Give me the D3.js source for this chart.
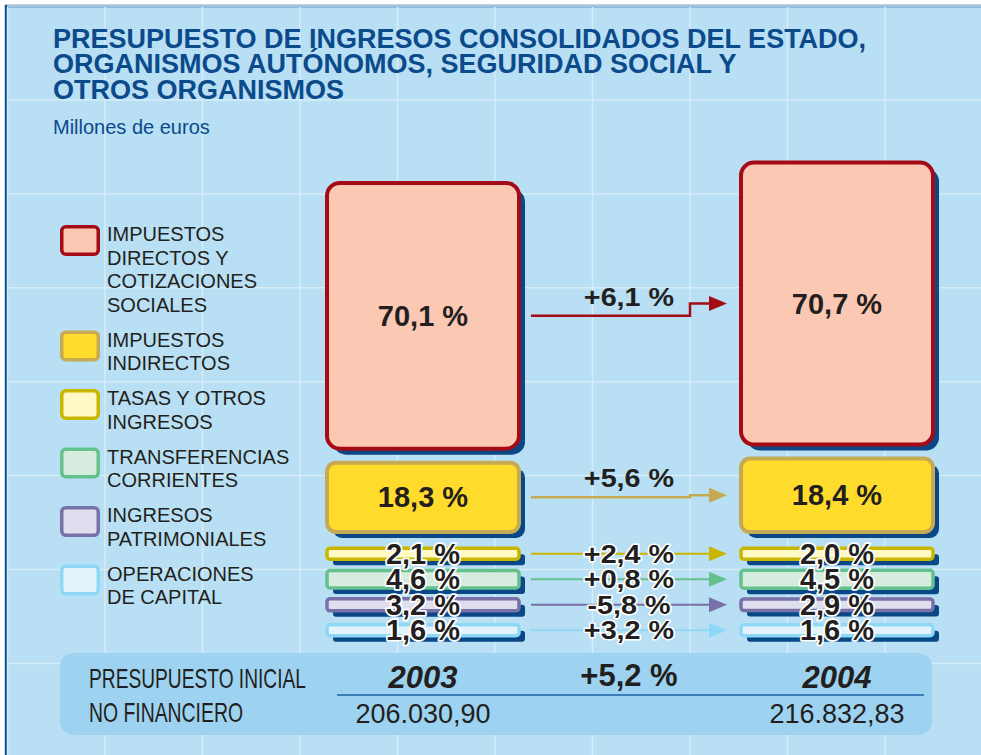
<!DOCTYPE html>
<html>
<head>
<meta charset="utf-8">
<script src="https://cdn.jsdelivr.net/npm/d3@7/dist/d3.min.js"></script>
<style>
  body { margin: 0; background: #fff; }
  svg { display: block; }
  text { font-family: "Liberation Sans", Arial, Helvetica, sans-serif; fill: #231f20; }
</style>
</head>
<body>
<svg id="chart" width="981" height="755"></svg>
<script>
// --- data ---
var years = ['2003', '2004'];

var categories = [
    'Impuestos directos y cotizaciones sociales',
    'Impuestos indirectos',
    'Tasas y otros ingresos',
    'Transferencias corrientes',
    'Ingresos patrimoniales',
    'Operaciones de capital'
];

var legendLines = [
    ['IMPUESTOS', 'DIRECTOS Y', 'COTIZACIONES', 'SOCIALES'],
    ['IMPUESTOS', 'INDIRECTOS'],
    ['TASAS Y OTROS', 'INGRESOS'],
    ['TRANSFERENCIAS', 'CORRIENTES'],
    ['INGRESOS', 'PATRIMONIALES'],
    ['OPERACIONES', 'DE CAPITAL']
];

var share2003 = [70.1, 18.3, 2.1, 4.6, 3.2, 1.6];
var share2004 = [70.7, 18.4, 2.0, 4.5, 2.9, 1.6];
var changePct = [6.1, 5.6, 2.4, 0.8, -5.8, 3.2];

var totals = [206030.90, 216832.83];
var totalChange = 5.2;

var strokeColors = ['#a50b16', '#c6aa53', '#c9b600', '#64c08c', '#7870a8', '#8ed8f6'];
var fillColors = ['#fbc8b3', '#ffdc2b', '#fff9c4', '#d6ecde', '#dfdeef', '#e2f3fb'];

// --- helpers ---
var es = d3.formatLocale({
    decimal: ',', thousands: '.', grouping: [3], currency: ['', ' €'], minus: '-'
});
var fmtShare = es.format('.1f');
var fmtChange = es.format('+.1f');
var fmtTotal = es.format(',.2f');

var svg = d3.select('#chart');
var shadowColor = '#0a4786';
var boxWidth = 192;

// background frame
svg.append('rect')
    .attr('x', 6).attr('y', 6)
    .attr('width', 1000).attr('height', 800)
    .attr('fill', '#b8dff3')
    .attr('stroke', '#0b4e8e')
    .attr('stroke-width', 2.5);

// grid
var grid = svg.append('g').attr('stroke', '#d4edf9').attr('stroke-width', 1.5);
grid.selectAll('line.v')
    .data(d3.range(-1, 10))
    .enter().append('line')
    .attr('class', 'v')
    .attr('x1', function (i) { return 105 + i * 97.5; })
    .attr('x2', function (i) { return 105 + i * 97.5; })
    .attr('y1', 7).attr('y2', 755);
grid.selectAll('line.h')
    .data(d3.range(-1, 8))
    .enter().append('line')
    .attr('class', 'h')
    .attr('y1', function (i) { return 100 + i * 93.9; })
    .attr('y2', function (i) { return 100 + i * 93.9; })
    .attr('x1', 7).attr('x2', 981);

// title
var title = svg.append('text')
    .attr('x', 53)
    .style('font-size', '27px')
    .style('font-weight', 'bold')
    .style('fill', '#0b4a8b');
title.selectAll('tspan')
    .data(['PRESUPUESTO DE INGRESOS CONSOLIDADOS DEL ESTADO,',
        'ORGANISMOS AUTÓNOMOS, SEGURIDAD SOCIAL Y',
        'OTROS ORGANISMOS'])
    .enter().append('tspan')
    .attr('x', 53)
    .attr('y', function (d, i) { return 47.5 + i * 25.5; })
    .text(function (d) { return d; });

svg.append('text')
    .attr('x', 53).attr('y', 134)
    .style('font-size', '20px')
    .style('fill', '#0b4a8b')
    .text('Millones de euros');

// legend
var legendTop = [];
var ly = 225;
legendLines.forEach(function (lines) {
    legendTop.push(ly);
    ly += lines.length * 23.5 + 11.5;
});

var legend = svg.append('g');
var item = legend.selectAll('g')
    .data(categories)
    .enter().append('g')
    .attr('transform', function (d, i) { return 'translate(0,' + legendTop[i] + ')'; });

item.append('rect')
    .attr('x', 61.75).attr('y', 1.75)
    .attr('width', 36.5).attr('height', 27.5)
    .attr('rx', 4)
    .attr('fill', function (d, i) { return fillColors[i]; })
    .attr('stroke', function (d, i) { return strokeColors[i]; })
    .attr('stroke-width', 3.5);

item.append('text')
    .style('font-size', '20px')
    .each(function (d, i) {
        d3.select(this).selectAll('tspan')
            .data(legendLines[i])
            .enter().append('tspan')
            .attr('x', 107)
            .attr('y', function (l, k) { return 16 + k * 23.5; })
            .text(function (l) { return l; });
    });

// scales
var xYear = d3.scalePoint().domain(years).range([423, 837]);
var hScale = d3.scaleLinear().domain([0, 100000]).range([0, 184]);
var yRow = d3.scaleBand().domain(categories.slice(2)).range([541, 643]);
var stackBase = 532;
var stackGap = 14;

// build boxes: big ones stacked upward from the base, small ones in fixed rows
var shares = [share2003, share2004];
var boxes = [];
years.forEach(function (yr, j) {
    var cx = xYear(yr);
    var bottom = stackBase;
    [1, 0, 2, 3, 4, 5].forEach(function (i) {
        var cat = categories[i];
        var amount = totals[j] * shares[j][i] / 100;
        var h = hScale(amount);
        var y0, y1;
        if (i < 2) {
            y1 = bottom;
            y0 = bottom - h;
            bottom = y0 - stackGap;
        } else {
            h = Math.max(h, 11);
            var c = yRow(cat) + yRow.bandwidth() / 2;
            y0 = c - h / 2;
            y1 = c + h / 2;
        }
        boxes.push({
            year: yr, j: j, i: i, cat: cat, share: shares[j][i],
            x0: cx - boxWidth / 2, x1: cx + boxWidth / 2,
            y0: y0, y1: y1, cy: (y0 + y1) / 2, big: i < 2
        });
    });
});

var marks = svg.append('g');

function radius(d) { return d.i === 0 ? 13 : (d.i === 1 ? 9 : 3); }

// shadows
marks.selectAll('rect.shadow')
    .data(boxes)
    .enter().append('rect')
    .attr('class', 'shadow')
    .attr('x', function (d) { return d.x0 + 6; })
    .attr('y', function (d) { return d.y0 + 6; })
    .attr('width', boxWidth)
    .attr('height', function (d) { return d.y1 - d.y0; })
    .attr('rx', radius)
    .attr('fill', shadowColor);

marks.selectAll('rect.box')
    .data(boxes)
    .enter().append('rect')
    .attr('class', 'box')
    .attr('x', function (d) { return d.x0; })
    .attr('y', function (d) { return d.y0; })
    .attr('width', boxWidth)
    .attr('height', function (d) { return d.y1 - d.y0; })
    .attr('rx', radius)
    .attr('fill', function (d) { return fillColors[d.i]; })
    .attr('stroke', function (d) { return strokeColors[d.i]; })
    .attr('stroke-width', function (d) { return d.big ? 4 : 3.5; });

// arrows between years
var ax0 = xYear(years[0]) + boxWidth / 2 + 12;
var ax1 = xYear(years[1]) - boxWidth / 2 - 14;
var axStep = 690;
var arrows = categories.map(function (cat, i) {
    var a = boxes.filter(function (b) { return b.i === i; });
    return { i: i, ya: a[0].cy, yb: a[1].cy, big: i < 2, change: changePct[i] };
});

var arrowG = svg.append('g');
arrowG.selectAll('path.line')
    .data(arrows)
    .enter().append('path')
    .attr('class', 'line')
    .attr('fill', 'none')
    .attr('stroke', function (d) { return strokeColors[d.i]; })
    .attr('stroke-width', function (d) { return d.big ? 2.5 : 2; })
    .attr('d', function (d) {
        var p = d3.path();
        p.moveTo(ax0, d.ya);
        p.lineTo(axStep, d.ya);
        p.lineTo(axStep, d.yb);
        p.lineTo(ax1 - 14, d.yb);
        return p.toString();
    });

arrowG.selectAll('path.head')
    .data(arrows)
    .enter().append('path')
    .attr('class', 'head')
    .attr('fill', function (d) { return strokeColors[d.i]; })
    .attr('d', function (d) {
        var p = d3.path();
        p.moveTo(ax1 - 18, d.yb - 7.5);
        p.lineTo(ax1, d.yb);
        p.lineTo(ax1 - 18, d.yb + 7.5);
        p.closePath();
        return p.toString();
    });

// box labels
svg.append('g').selectAll('text')
    .data(boxes)
    .enter().append('text')
    .attr('x', function (d) { return (d.x0 + d.x1) / 2; })
    .attr('y', function (d) { return d.cy + 10; })
    .attr('text-anchor', 'middle')
    .style('font-size', '29px')
    .style('font-weight', 'bold')
    .style('stroke', function (d) { return d.big ? 'none' : '#fff'; })
    .style('stroke-width', 3.5)
    .style('stroke-linejoin', 'round')
    .style('paint-order', 'stroke')
    .text(function (d) { return fmtShare(d.share) + ' %'; });

// change labels
var midX = (ax0 + ax1) / 2;
svg.append('g').selectAll('text')
    .data(arrows)
    .enter().append('text')
    .attr('transform', function (d) {
        var y = d.big ? d.ya - 10 : d.ya + 9;
        return 'translate(' + midX + ',' + y + ') scale(1.15,1)';
    })
    .attr('text-anchor', 'middle')
    .style('font-size', '25px')
    .style('font-weight', 'bold')
    .style('stroke', function (d) { return d.big ? 'none' : '#fff'; })
    .style('stroke-width', 3)
    .style('stroke-linejoin', 'round')
    .style('paint-order', 'stroke')
    .text(function (d) { return fmtChange(d.change) + ' %'; });

// bottom panel
var panel = svg.append('g');
panel.append('rect')
    .attr('x', 60).attr('y', 653)
    .attr('width', 872).attr('height', 82)
    .attr('rx', 14)
    .attr('fill', '#9dd3f0');

panel.append('text')
    .attr('x', 89).attr('y', 688)
    .attr('textLength', 217).attr('lengthAdjust', 'spacingAndGlyphs')
    .style('font-size', '28px')
    .text('PRESUPUESTO INICIAL');
panel.append('text')
    .attr('x', 89).attr('y', 722)
    .attr('textLength', 154).attr('lengthAdjust', 'spacingAndGlyphs')
    .style('font-size', '28px')
    .text('NO FINANCIERO');

panel.append('line')
    .attr('x1', 337).attr('x2', 924)
    .attr('y1', 695).attr('y2', 695)
    .attr('stroke', '#1c5fa6')
    .attr('stroke-width', 1.5);

panel.selectAll('text.year')
    .data(years)
    .enter().append('text')
    .attr('class', 'year')
    .attr('x', function (d) { return xYear(d); })
    .attr('y', 688)
    .attr('text-anchor', 'middle')
    .style('font-size', '31px')
    .style('font-weight', 'bold')
    .style('font-style', 'italic')
    .text(function (d) { return d; });

panel.append('text')
    .attr('x', midX).attr('y', 686)
    .attr('text-anchor', 'middle')
    .style('font-size', '31px')
    .style('font-weight', 'bold')
    .text(fmtChange(totalChange) + ' %');

panel.selectAll('text.total')
    .data(totals)
    .enter().append('text')
    .attr('class', 'total')
    .attr('x', function (d, j) { return xYear(years[j]); })
    .attr('y', 723)
    .attr('text-anchor', 'middle')
    .style('font-size', '27px')
    .text(function (d) { return fmtTotal(d); });
</script>
</body>
</html>
